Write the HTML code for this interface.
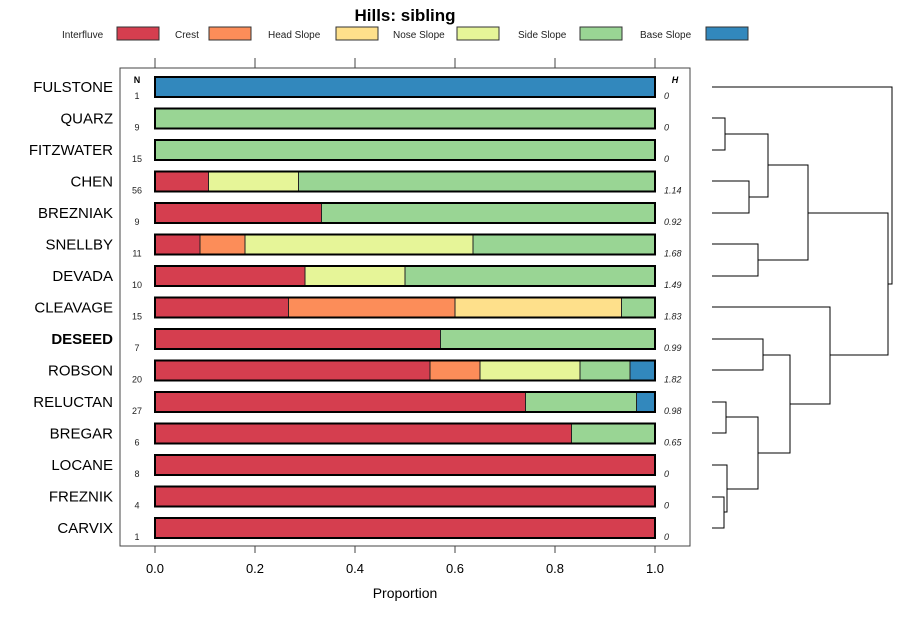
<!DOCTYPE html>
<html><head><meta charset="utf-8"><style>
html,body{margin:0;padding:0;background:#fff;}
svg{display:block;font-family:"Liberation Sans",sans-serif;}
</style></head><body>
<svg id="chart" width="900" height="620" xmlns="http://www.w3.org/2000/svg">
<text x="405" y="21" text-anchor="middle" font-size="17" font-weight="bold">Hills: sibling</text>
<g id="legend"></g>
<rect x="120" y="68" width="570" height="478" fill="none" stroke="#444" stroke-width="1"/>
<g id="bars"></g>
<g id="axes"></g>
<g id="dendro" stroke="#000" stroke-width="1" fill="none"></g>
<text x="405" y="598" text-anchor="middle" font-size="14">Proportion</text>
<text x="137" y="83" text-anchor="middle" font-size="9" font-weight="bold">N</text>
<text x="675" y="83" text-anchor="middle" font-size="9" font-weight="bold" font-style="italic">H</text>
</svg>
<script>
const categories=["Interfluve","Crest","Head Slope","Nose Slope","Side Slope","Base Slope"];
const colors=["#D53E4F","#FC8D59","#FEE08B","#E6F598","#99D594","#3288BD"];
const names=["FULSTONE","QUARZ","FITZWATER","CHEN","BREZNIAK","SNELLBY","DEVADA","CLEAVAGE","DESEED","ROBSON","RELUCTAN","BREGAR","LOCANE","FREZNIK","CARVIX"];
const nValues=[1,9,15,56,9,11,10,15,7,20,27,6,8,4,1];
const hValues=["0","0","0","1.14","0.92","1.68","1.49","1.83","0.99","1.82","0.98","0.65","0","0","0"];
const interfluve=[0,0,0,0.107,0.333,0.09,0.3,0.267,0.571,0.55,0.741,0.833,1,1,1];
const crest=[0,0,0,0,0,0.09,0,0.333,0,0.1,0,0,0,0,0];
const headSlope=[0,0,0,0,0,0,0,0.333,0,0,0,0,0,0,0];
const noseSlope=[0,0,0,0.18,0,0.456,0.2,0,0,0.2,0,0,0,0,0];
const sideSlope=[0,1,1,0.713,0.667,0.364,0.5,0.067,0.429,0.1,0.222,0.167,0,0,0];
const baseSlope=[1,0,0,0,0,0,0,0,0,0.05,0.037,0,0,0,0];
const xTicks=[0,0.2,0.4,0.6,0.8,1.0];
const tickLabels=["0.0","0.2","0.4","0.6","0.8","1.0"];
const series=[interfluve,crest,headSlope,noseSlope,sideSlope,baseSlope];
const NS="http://www.w3.org/2000/svg";
const xs=v=>155+v*500;
const ys=i=>87+i*31.5;
function mk(tag,attrs,parent,txt){const e=document.createElementNS(NS,tag);for(const k in attrs)e.setAttribute(k,attrs[k]);if(txt!==undefined)e.textContent=txt;parent.appendChild(e);return e;}
const leg=document.getElementById('legend');
const legX=[[62,117],[175,209],[268,336],[393,457],[518,580],[640,706]];
categories.forEach((c,k)=>{
 const t=mk('text',{x:legX[k][0],y:38,'font-size':10,fill:'#222'},leg,c);
 
 
 const r=mk('rect',{x:legX[k][1],y:27,width:42,height:13,fill:colors[k],stroke:'#333','stroke-width':1},leg);
 
 
});
const bars=document.getElementById('bars');
names.forEach((nm,i)=>{
 const y=ys(i);let acc=0;
 series.forEach((s,k)=>{
  const v=s[i]; if(v<=0)return;
  const r=mk('rect',{x:xs(acc),y:y-10,width:xs(acc+v)-xs(acc),height:20,fill:colors[k],stroke:'#222','stroke-width':1},bars);
  
  
  acc+=v;
 });
 const o=mk('rect',{x:xs(0),y:y-10,width:500,height:20,fill:'none',stroke:'#000','stroke-width':2},bars);
 
 
 const lab=mk('text',{x:113,y:y+5,'text-anchor':'end','font-size':15,'font-weight':nm==='DESEED'?'bold':'normal'},bars,nm);
 
 
 const n=mk('text',{x:137,y:y+12,'text-anchor':'middle','font-size':9,fill:'#222'},bars,nValues[i]);
 
 
 const h=mk('text',{x:664,y:y+12,'font-size':9,'font-style':'italic',fill:'#222'},bars,hValues[i]);
 
 
});
const ax=document.getElementById('axes');
xTicks.forEach((t,k)=>{
 const a=mk('line',{x1:xs(t),x2:xs(t),y1:58,y2:68,stroke:'#444'},ax);
 
 
 const b=mk('line',{x1:xs(t),x2:xs(t),y1:546,y2:553,stroke:'#444'},ax);
 
 
 const l=mk('text',{x:xs(t),y:573,'text-anchor':'middle','font-size':13},ax,tickLabels[k]);
 
 
});
const dg=document.getElementById('dendro');
const segs=[
 [118,150,725,712,712],[181,213,749,712,712],[134,197,768,725,749],
 [244,276,758,712,712],[165,260,808,768,758],
 [339,370,763,712,712],[402,433,726,712,712],[497,528,724,712,712],
 [465,512,727,712,724],[417,489,758,726,727],[355,453,790,763,758],
 [307,404,830,712,790],[213,355,888,808,830],[87,284,892,712,888]];
segs.forEach(s=>{
 const p=mk('path',{d:`M${s[3]},${s[0]}H${s[2]}V${s[1]}H${s[4]}`},dg);
 
 
});
</script>
</body></html>
